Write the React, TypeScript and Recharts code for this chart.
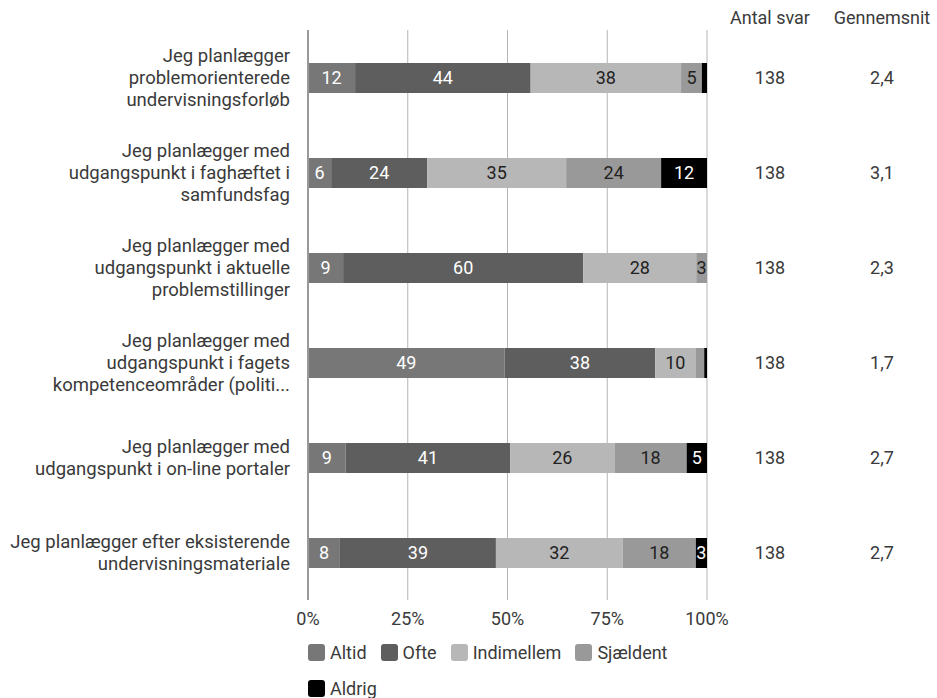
import React from "react";
import { BarChart, Bar, XAxis, YAxis, CartesianGrid, LabelList } from "recharts";

const categories = [
  "Jeg planlægger\nproblemorienterede\nundervisningsforløb",
  "Jeg planlægger med\nudgangspunkt i faghæftet i\nsamfundsfag",
  "Jeg planlægger med\nudgangspunkt i aktuelle\nproblemstillinger",
  "Jeg planlægger med\nudgangspunkt i fagets\nkompetenceområder (politi...",
  "Jeg planlægger med\nudgangspunkt i on-line portaler",
  "Jeg planlægger efter eksisterende\nundervisningsmateriale",
];

// shares in percent
const altid = [11.8, 5.8, 8.8, 49.3, 9.4, 8.0];
const ofte = [44.0, 24.1, 60.2, 37.7, 41.3, 39.1];
const indimellem = [37.7, 34.8, 28.3, 10.1, 26.1, 31.8];
const sjaeldent = [5.2, 23.8, 2.7, 2.2, 18.1, 18.3];
const aldrig = [1.3, 11.5, 0, 0.7, 5.1, 2.8];

const antalSvar = [138, 138, 138, 138, 138, 138];
const gennemsnit = ["2,4", "3,1", "2,3", "1,7", "2,7", "2,7"];

const xTicks = [0, 25, 50, 75, 100];

const series = [
  { key: "altid", name: "Altid", color: "#777777", text: "#ffffff" },
  { key: "ofte", name: "Ofte", color: "#5e5e5e", text: "#ffffff" },
  { key: "indimellem", name: "Indimellem", color: "#b7b7b7", text: "#222222" },
  { key: "sjaeldent", name: "Sjældent", color: "#999999", text: "#222222" },
  { key: "aldrig", name: "Aldrig", color: "#000000", text: "#ffffff" },
];

const data = categories.map((name, i) => ({
  name,
  altid: altid[i],
  ofte: ofte[i],
  indimellem: indimellem[i],
  sjaeldent: sjaeldent[i],
  aldrig: aldrig[i],
  n: antalSvar[i],
  avg: gennemsnit[i],
}));

const FONT = "Roboto, sans-serif";
const TEXT = "#3a3a3a";
const FS = 18;
const COL_N_X = 770;
const COL_AVG_X = 882;

const CategoryTick = ({ x, y, payload }: any) => {
  const lines = String(payload.value).split("\n");
  const lh = 22;
  const start = -((lines.length - 1) * lh) / 2;
  return (
    <text x={x} y={y} textAnchor="end" fill={TEXT} fontSize={18.5} fontFamily={FONT}>
      {lines.map((l, i) => (
        <tspan key={i} x={x - 10} y={y + start + i * lh} dy="0.35em">
          {l}
        </tspan>
      ))}
    </text>
  );
};

const RightTick = ({ y, payload }: any) => {
  const row = data[payload.index];
  if (!row) return null;
  return (
    <g fontFamily={FONT} fontSize={FS} fill={TEXT}>
      <text x={COL_N_X} y={y} dy="0.35em" textAnchor="middle">{row.n}</text>
      <text x={COL_AVG_X} y={y} dy="0.35em" textAnchor="middle">{row.avg}</text>
    </g>
  );
};

const makeLabel = (textColor: string) => (props: any) => {
  const { x, y, width, height, value } = props;
  const v = Math.round(Number(value));
  if (!v || v < 3) return null;
  return (
    <text
      x={x + width / 2}
      y={y + height / 2}
      dy="0.35em"
      textAnchor="middle"
      fill={textColor}
      fontSize={FS}
      fontFamily={FONT}
    >
      {v}
    </text>
  );
};

export default function App() {
  return (
    <div style={{ position: "absolute", left: 0, top: 0, width: 937, height: 698, background: "#fff", fontFamily: FONT }}>
      <div style={{ position: "absolute", top: 6, left: COL_N_X - 60, width: 120, textAlign: "center", fontSize: FS, lineHeight: "24px", color: TEXT }}>
        Antal svar
      </div>
      <div style={{ position: "absolute", top: 6, left: COL_AVG_X - 60, width: 120, textAlign: "center", fontSize: FS, lineHeight: "24px", color: TEXT }}>
        Gennemsnit
      </div>
      <BarChart
        width={937}
        height={698}
        data={data}
        layout="vertical"
        margin={{ top: 30, right: 0, bottom: 68, left: 0 }}
        barSize={30}
      >
        <CartesianGrid horizontal={false} stroke="#b5b5b5" />
        <XAxis
          type="number"
          domain={[0, 100]}
          ticks={xTicks}
          tickFormatter={(v) => `${v}%`}
          axisLine={false}
          tickLine={false}
          height={30}
          tick={{ fill: TEXT, fontSize: FS, fontFamily: FONT }}
          tickMargin={6}
        />
        <YAxis
          type="category"
          dataKey="name"
          width={308}
          axisLine={{ stroke: "#999999", strokeWidth: 2 }}
          tickLine={false}
          tick={<CategoryTick />}
          interval={0}
        />
        <YAxis
          yAxisId="right"
          orientation="right"
          type="category"
          dataKey="name"
          width={230}
          axisLine={false}
          tickLine={false}
          tick={<RightTick />}
          interval={0}
        />
        {series.map((s) => (
          <Bar key={s.key} dataKey={s.key} name={s.name} stackId="a" fill={s.color} isAnimationActive={false}>
            <LabelList dataKey={s.key} content={makeLabel(s.text)} />
          </Bar>
        ))}
      </BarChart>
      <div
        style={{
          position: "absolute",
          left: 308,
          top: 641,
          width: 400,
          display: "flex",
          flexWrap: "wrap",
          rowGap: 14,
          fontSize: FS,
          color: TEXT,
        }}
      >
        {series.map((s) => (
          <div key={s.key} style={{ display: "flex", alignItems: "center", marginRight: 14, height: 22 }}>
            <span
              style={{
                display: "inline-block",
                width: 17,
                height: 17,
                borderRadius: 3,
                background: s.color,
                marginRight: 5,
              }}
            />
            {s.name}
          </div>
        ))}
      </div>
    </div>
  );
}
